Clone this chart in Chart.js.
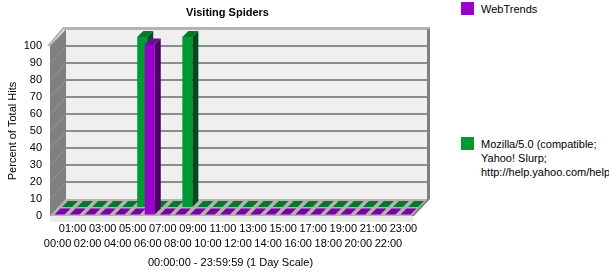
<!DOCTYPE html>
<html>
<head>
<meta charset="utf-8">
<script src="https://cdn.jsdelivr.net/npm/chart.js@4.4.0/dist/chart.umd.min.js"></script>
<style>
  html, body { margin:0; padding:0; background:#fff; width:609px; height:274px; overflow:hidden; }
  #wrap { position:relative; width:609px; height:274px; }
  #c { position:absolute; left:0; top:0; }
  .lg { position:absolute; left:461px; font:11px "Liberation Sans", Arial, sans-serif; color:#000; white-space:nowrap; }
  .lg i { position:absolute; left:0; top:0; width:13px; height:13px; }
  .lg span { position:absolute; left:20px; top:0; line-height:14px; }
</style>
</head>
<body>
<div id="wrap">
  <canvas id="c" width="455" height="274"></canvas>
  <div id="legend"></div>
</div>
<script>
/* ── DATA ── */
const hours = ["00:00","01:00","02:00","03:00","04:00","05:00","06:00","07:00","08:00","09:00","10:00","11:00",
               "12:00","13:00","14:00","15:00","16:00","17:00","18:00","19:00","20:00","21:00","22:00","23:00"];
const webTrends = [0,0,0,0,0,0,100,0,0,0,0,0, 0,0,0,0,0,0,0,0,0,0,0,0];
const yahooSlurp = [0,0,0,0,0,100,0,0,100,0,0,0, 0,0,0,0,0,0,0,0,0,0,0,0];
const seriesNames = ["WebTrends", "Mozilla/5.0 (compatible; Yahoo! Slurp; http://help.yahoo.com/help/us/ysearch/slurp)"];
const legendLines = [["WebTrends"], ["Mozilla/5.0 (compatible;", "Yahoo! Slurp;", "http://help.yahoo.com/help/us/ysearch/slurp)"]];

/* ── 3D LOOK ── */
const DX = 16, DY = 17;                       // floor depth
const ROW = [{dx:2, dy:1.5}, {dx:9.5, dy:9}]; // front offset per row (dataset)
const BD = 6;                                 // bar depth

function poly(ctx, pts, color) {
  ctx.beginPath();
  pts.forEach((p, i) => i ? ctx.lineTo(p[0], p[1]) : ctx.moveTo(p[0], p[1]));
  ctx.closePath(); ctx.fillStyle = color; ctx.fill();
}

const walls = {
  id: "walls",
  beforeDatasetsDraw(chart) {
    const { ctx, chartArea: a, scales: { y } } = chart;
    const L = a.left, R = a.right, B = a.bottom, T = a.top;
    ctx.save();
    ctx.fillStyle = "#ebebeb"; ctx.fillRect(L, B, R - L + 2, 6);
    poly(ctx, [[L,B],[R,B],[R+DX,B-DY],[L+DX,B-DY]], "#b3b3b3");
    poly(ctx, [[R,B],[R+3,B],[R+DX+3,B-DY],[R+DX,B-DY]], "#808080");
    ctx.fillStyle = "#efefef"; ctx.fillRect(L + DX, T - DY, R - L, B - T);
    poly(ctx, [[L,T],[L+DX,T-DY],[L+DX,B-DY],[L,B]], "#808080");
    y.ticks.forEach(t => {
      if (t.value <= 0 || t.value >= y.max) return;
      const py = Math.round(y.getPixelForValue(t.value));
      ctx.fillStyle = "#8c8c8c"; ctx.fillRect(L + DX, py - DY - 1, R - L, 2);
      ctx.strokeStyle = "#969696"; ctx.lineWidth = 1;
      ctx.beginPath(); ctx.moveTo(L, py + 0.5); ctx.lineTo(L + DX, py - DY + 0.5); ctx.stroke();
    });
    ctx.fillStyle = "#b4b4b4"; ctx.fillRect(L + DX - 2, T - DY - 2, R - L + 5, 3);
    poly(ctx, [[L-3,T],[L,T],[L+DX,T-DY-2],[L+DX-3,T-DY-2]], "#b4b4b4");
    ctx.fillStyle = "#808080"; ctx.fillRect(R + DX, T - DY, 3, B - T);
    ctx.restore();
  }
};

const bars3d = {
  id: "bars3d",
  beforeDatasetDraw(chart, { index }) {
    const o = ROW[index];
    chart.ctx.save();
    chart.ctx.translate(o.dx, -o.dy);
  },
  afterDatasetDraw(chart, { index, meta }) {
    const ctx = chart.ctx, ds = chart.data.datasets[index];
    meta.data.forEach(bar => {
      const { x, y, base, width } = bar.getProps(["x","y","base","width"], true);
      const l = x - width / 2, r = x + width / 2;
      poly(ctx, [[l,y],[r,y],[r+BD,y-BD],[l+BD,y-BD]], ds.topColor);
      if (base - y > 0) poly(ctx, [[r,y],[r+BD,y-BD],[r+BD,base-BD],[r,base]], ds.sideColor);
    });
    ctx.restore();
  }
};

/* ── LEGEND ── */
const colors = ["#9900cc", "#009933"];
const legendTops = [2, 137];
document.getElementById("legend").innerHTML = legendLines.map((lines, i) =>
  `<div class="lg" style="top:${legendTops[i]}px"><i style="background:${colors[i]}"></i><span>${lines.join("<br>")}</span></div>`).join("");

/* ── CHART ── */
Chart.defaults.font.family = "'Liberation Sans', Arial, sans-serif";
Chart.defaults.font.size = 11;
Chart.defaults.color = "#000";

new Chart(document.getElementById("c"), {
  type: "bar",
  data: {
    labels: hours,
    datasets: [
      { label: seriesNames[0], data: webTrends, backgroundColor: colors[0], topColor: "#7a00a3", sideColor: "#4c0066" },
      { label: seriesNames[1], data: yahooSlurp, backgroundColor: colors[1], topColor: "#007a29", sideColor: "#004d1a" }
    ]
  },
  options: {
    responsive: false, animation: false,
    datasets: { bar: { grouped: false, categoryPercentage: 1, barPercentage: 0.665, clip: false, borderWidth: 0 } },
    plugins: {
      legend: { display: false }, tooltip: { enabled: false },
      title: { display: true, text: "Visiting Spiders", font: { size: 11, weight: "bold" }, color: "#000", padding: { top: 6.4, bottom: 26.4 } }
    },
    scales: {
      x: {
        grid: { display: true, drawOnChartArea: false, offset: false, tickLength: 5, color: "#808080" },
        border: { display: false },
        ticks: { autoSkip: false, maxRotation: 0, padding: 0, font: { size: 11, lineHeight: "15px" },
                 callback: (v, i) => i % 2 ? [hours[i], ""] : ["", hours[i]] },
        title: { display: true, text: "00:00:00 - 23:59:59 (1 Day Scale)", font: { size: 11 }, padding: { top: 0, bottom: 4 } },
        afterFit: s => { s.height = 58; }
      },
      y: {
        min: 0, max: 100,
        grid: { display: false, drawTicks: false },
        border: { display: false },
        ticks: { stepSize: 10, padding: 8, font: { size: 11 } },
        title: { display: true, text: "Percent of Total Hits", font: { size: 11 }, padding: { top: 6.4, bottom: 0 } },
        afterFit: s => { s.width = 50; }
      },
      // empty right-hand gutter for the 3D depth
      gutter: {
        type: "linear", position: "right", display: true,
        grid: { display: false }, border: { display: false }, ticks: { display: false },
        afterFit: s => { s.width = 44; }
      }
    }
  },
  plugins: [walls, bars3d]
});
</script>
</body>
</html>
